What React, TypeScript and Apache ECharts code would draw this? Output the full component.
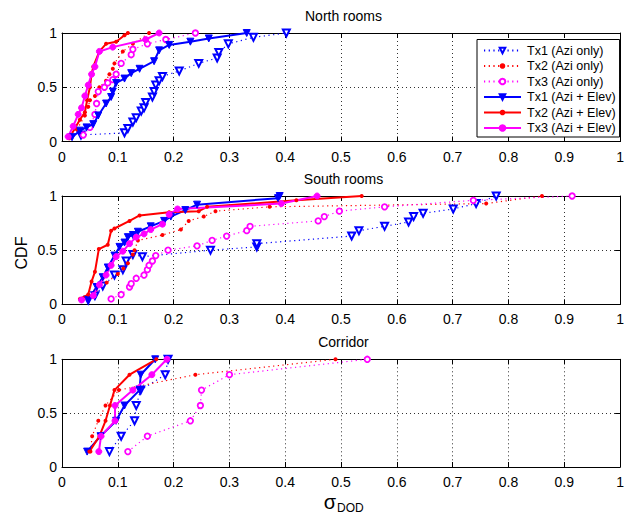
import React, { useEffect, useRef } from "react";
import * as echarts from "echarts";

type Pt = [number, number];

const panelTitles = ["North rooms", "South rooms", "Corridor"];
const seriesNames = [
  "Tx1 (Azi only)",
  "Tx2 (Azi only)",
  "Tx3 (Azi only)",
  "Tx1 (Azi + Elev)",
  "Tx2 (Azi + Elev)",
  "Tx3 (Azi + Elev)",
];
const xTickValues = [0, 0.1, 0.2, 0.3, 0.4, 0.5, 0.6, 0.7, 0.8, 0.9, 1];
const yTickValues = [0, 0.5, 1];
const xLabelText = "σ";
const xLabelSub = "DOD";
const yLabelText = "CDF";

// North rooms
const northTx1Azi: Pt[] = [
  [0.034, 0.06], [0.112, 0.08], [0.118, 0.12], [0.127, 0.18], [0.133, 0.22], [0.142, 0.28],
  [0.147, 0.31], [0.15, 0.36], [0.162, 0.41], [0.165, 0.46], [0.168, 0.52], [0.174, 0.56],
  [0.18, 0.6], [0.21, 0.65], [0.245, 0.72], [0.278, 0.77], [0.281, 0.82], [0.298, 0.9],
  [0.343, 0.96], [0.402, 1.0],
];
const northTx2Azi: Pt[] = [
  [0.027, 0.11], [0.041, 0.24], [0.047, 0.32], [0.05, 0.38], [0.059, 0.42], [0.067, 0.5],
  [0.079, 0.56], [0.085, 0.62], [0.091, 0.67], [0.094, 0.72], [0.109, 0.83], [0.127, 0.9],
  [0.156, 1.0],
];
const northTx3Azi: Pt[] = [
  [0.038, 0.06], [0.05, 0.13], [0.059, 0.25], [0.062, 0.35], [0.065, 0.46], [0.076, 0.5],
  [0.082, 0.54], [0.091, 0.57], [0.097, 0.62], [0.106, 0.72], [0.124, 0.8], [0.127, 0.85],
  [0.153, 0.9], [0.186, 0.94], [0.239, 1.0],
];
const northTx1Elev: Pt[] = [
  [0.018, 0.04], [0.032, 0.1], [0.044, 0.13], [0.056, 0.16], [0.065, 0.24], [0.079, 0.35],
  [0.088, 0.41], [0.091, 0.46], [0.097, 0.54], [0.112, 0.58], [0.124, 0.63], [0.139, 0.67],
  [0.165, 0.74], [0.174, 0.84], [0.192, 0.89], [0.23, 0.92], [0.263, 0.95], [0.331, 1.0],
];
const northTx2Elev: Pt[] = [
  [0.013, 0.03], [0.023, 0.12], [0.032, 0.2], [0.041, 0.27], [0.045, 0.38], [0.05, 0.5],
  [0.053, 0.62], [0.056, 0.69], [0.067, 0.83], [0.079, 0.9], [0.097, 0.92], [0.112, 0.98],
  [0.118, 1.0],
];
const northTx3Elev: Pt[] = [
  [0.011, 0.045], [0.02, 0.14], [0.029, 0.25], [0.035, 0.31], [0.041, 0.42], [0.047, 0.52],
  [0.053, 0.62], [0.059, 0.69], [0.067, 0.83], [0.091, 0.87], [0.15, 0.94], [0.174, 1.0],
];

// South rooms
const southTx1Azi: Pt[] = [
  [0.047, 0.04], [0.059, 0.08], [0.073, 0.17], [0.094, 0.27], [0.109, 0.32], [0.115, 0.4],
  [0.127, 0.46], [0.144, 0.44], [0.266, 0.5], [0.349, 0.53], [0.349, 0.56], [0.519, 0.63],
  [0.532, 0.68], [0.578, 0.72], [0.621, 0.76], [0.63, 0.81], [0.647, 0.84], [0.701, 0.88],
  [0.742, 0.93], [0.778, 1.0],
];
const southTx2Azi: Pt[] = [
  [0.04, 0.06], [0.06, 0.13], [0.08, 0.2], [0.1, 0.28], [0.11, 0.33], [0.118, 0.38],
  [0.127, 0.46], [0.13, 0.5], [0.136, 0.59], [0.18, 0.64], [0.213, 0.69], [0.227, 0.77],
  [0.254, 0.81], [0.275, 0.86], [0.372, 0.9], [0.76, 0.93], [0.86, 1.0],
];
const southTx3Azi: Pt[] = [
  [0.088, 0.05], [0.106, 0.09], [0.121, 0.16], [0.124, 0.19], [0.133, 0.24], [0.147, 0.27],
  [0.153, 0.32], [0.156, 0.36], [0.162, 0.4], [0.168, 0.45], [0.19, 0.5], [0.242, 0.54],
  [0.269, 0.59], [0.295, 0.63], [0.331, 0.68], [0.337, 0.72], [0.459, 0.77], [0.47, 0.81],
  [0.497, 0.86], [0.578, 0.9], [0.737, 0.96], [0.914, 1.0],
];
const southTx1Elev: Pt[] = [
  [0.047, 0.04], [0.062, 0.16], [0.073, 0.25], [0.082, 0.34], [0.094, 0.45], [0.103, 0.53],
  [0.112, 0.57], [0.118, 0.62], [0.127, 0.64], [0.136, 0.67], [0.159, 0.72], [0.183, 0.77],
  [0.195, 0.81], [0.221, 0.87], [0.242, 0.92], [0.387, 0.98], [0.39, 1.0],
];
const southTx2Elev: Pt[] = [
  [0.032, 0.05], [0.047, 0.09], [0.053, 0.21], [0.059, 0.3], [0.066, 0.51], [0.082, 0.55],
  [0.088, 0.68], [0.094, 0.7], [0.121, 0.77], [0.139, 0.82], [0.192, 0.85], [0.245, 0.86],
  [0.26, 0.9], [0.42, 0.96], [0.537, 1.0],
];
const southTx3Elev: Pt[] = [
  [0.035, 0.04], [0.056, 0.08], [0.067, 0.18], [0.079, 0.27], [0.088, 0.36], [0.097, 0.44],
  [0.109, 0.49], [0.121, 0.56], [0.133, 0.62], [0.147, 0.65], [0.159, 0.69], [0.18, 0.74],
  [0.192, 0.83], [0.207, 0.88], [0.393, 0.93], [0.457, 1.0],
];

// Corridor
const corridorTx1Azi: Pt[] = [
  [0.085, 0.143], [0.106, 0.286], [0.13, 0.429], [0.133, 0.571], [0.141, 0.714], [0.185, 0.857], [0.19, 1.0],
];
const corridorTx2Azi: Pt[] = [
  [0.051, 0.143], [0.054, 0.286], [0.065, 0.429], [0.078, 0.571], [0.102, 0.714], [0.239, 0.857], [0.49, 1.0],
];
const corridorTx3Azi: Pt[] = [
  [0.118, 0.143], [0.153, 0.286], [0.23, 0.429], [0.248, 0.571], [0.25, 0.714], [0.3, 0.857], [0.547, 1.0],
];
const corridorTx1Elev: Pt[] = [
  [0.045, 0.143], [0.069, 0.286], [0.097, 0.429], [0.112, 0.571], [0.139, 0.714], [0.141, 0.857], [0.167, 1.0],
];
const corridorTx2Elev: Pt[] = [
  [0.049, 0.143], [0.067, 0.286], [0.078, 0.429], [0.086, 0.571], [0.094, 0.714], [0.121, 0.857], [0.169, 1.0],
];
const corridorTx3Elev: Pt[] = [
  [0.066, 0.143], [0.07, 0.286], [0.095, 0.429], [0.095, 0.571], [0.127, 0.714], [0.161, 0.857], [0.188, 1.0],
];

const panelData: Pt[][][] = [
  [northTx1Azi, northTx2Azi, northTx3Azi, northTx1Elev, northTx2Elev, northTx3Elev],
  [southTx1Azi, southTx2Azi, southTx3Azi, southTx1Elev, southTx2Elev, southTx3Elev],
  [corridorTx1Azi, corridorTx2Azi, corridorTx3Azi, corridorTx1Elev, corridorTx2Elev, corridorTx3Elev],
];

const FONT = "'Liberation Sans', Arial, Helvetica, sans-serif";
const BLUE = "#0000ff";
const RED = "#ff0000";
const MAGENTA = "#ff00ff";

const styles = [
  { color: BLUE, dotted: true, symbol: "triangle", size: 7, fill: "#ffffff", bw: 2 },
  { color: RED, dotted: true, symbol: "circle", size: 4, fill: RED, bw: 0 },
  { color: MAGENTA, dotted: true, symbol: "circle", size: 5.5, fill: "#ffffff", bw: 1.8 },
  { color: BLUE, dotted: false, symbol: "triangle", size: 7, fill: BLUE, bw: 1 },
  { color: RED, dotted: false, symbol: "circle", size: 4, fill: RED, bw: 0 },
  { color: MAGENTA, dotted: false, symbol: "circle", size: 6, fill: MAGENTA, bw: 1 },
];

const grids = [
  { top: 33, height: 108.5 },
  { top: 196, height: 108.3 },
  { top: 359.3, height: 107.7 },
];
const LEFT = 62;
const WIDTH = 563;

export default function App() {
  const ref = useRef<HTMLDivElement>(null);
  useEffect(() => {
    if (!ref.current) return;
    const chart = echarts.init(ref.current, undefined, { renderer: "svg" });

    const xAxes: any[] = [];
    const yAxes: any[] = [];
    const series: any[] = [];
    const gridOpts: any[] = [];
    const graphics: any[] = [];

    const splitLine = {
      show: true,
      lineStyle: { color: "#000", width: 0.9, type: [1, 3], opacity: 0.9 },
    };

    grids.forEach((g, gi) => {
      gridOpts.push({ left: LEFT, top: g.top, width: WIDTH, height: g.height, show: false });
      xAxes.push({
        type: "value",
        gridIndex: gi,
        min: 0,
        max: 1,
        interval: 0.1,
        position: "bottom",
        axisLine: { show: true, onZero: false, lineStyle: { color: "#000", width: 1 } },
        axisTick: { show: true, inside: true, length: 5, lineStyle: { color: "#000" } },
        axisLabel: {
          show: true,
          margin: 8,
          color: "#000",
          fontSize: 14,
          fontFamily: FONT,
          formatter: (v: number) => String(+v.toFixed(1)),
          customValues: xTickValues,
        },
        splitLine,
      });
      xAxes.push({
        type: "value",
        gridIndex: gi,
        min: 0,
        max: 1,
        interval: 0.1,
        position: "top",
        axisLine: { show: true, onZero: false, lineStyle: { color: "#000", width: 1 } },
        axisTick: { show: true, inside: true, length: 5, lineStyle: { color: "#000" } },
        axisLabel: { show: false },
        splitLine: { show: false },
      });
      yAxes.push({
        type: "value",
        gridIndex: gi,
        min: 0,
        max: 1,
        interval: 0.5,
        position: "left",
        axisLine: { show: true, onZero: false, lineStyle: { color: "#000", width: 1 } },
        axisTick: { show: true, inside: true, length: 5, lineStyle: { color: "#000" } },
        axisLabel: {
          show: true,
          margin: 5,
          color: "#000",
          fontSize: 14,
          fontFamily: FONT,
          formatter: (v: number) => String(+v.toFixed(1)),
          customValues: yTickValues,
        },
        splitLine,
      });
      yAxes.push({
        type: "value",
        gridIndex: gi,
        min: 0,
        max: 1,
        interval: 0.5,
        position: "right",
        axisLine: { show: true, onZero: false, lineStyle: { color: "#000", width: 1 } },
        axisTick: { show: true, inside: true, length: 5, lineStyle: { color: "#000" } },
        axisLabel: { show: false },
        splitLine: { show: false },
      });

      panelData[gi].forEach((data, si) => {
        const s = styles[si];
        series.push({
          type: "line",
          name: seriesNames[si],
          xAxisIndex: gi * 2,
          yAxisIndex: gi * 2,
          data,
          symbol: s.symbol,
          symbolSize: s.size,
          symbolRotate: s.symbol === "triangle" ? 180 : 0,
          showSymbol: true,
          clip: false,
          z: s.dotted ? 2 : 3,
          lineStyle: s.dotted
            ? { color: s.color, width: 1.2, type: [1.2, 3.5] }
            : { color: s.color, width: 2, type: "solid" },
          itemStyle: { color: s.fill, borderColor: s.color, borderWidth: s.bw },
          emphasis: { disabled: true },
        });
      });

      graphics.push({
        type: "text",
        x: LEFT + WIDTH / 2,
        y: g.top - 17,
        style: {
          text: panelTitles[gi],
          fill: "#000",
          font: `14px ${FONT}`,
          align: "center",
          verticalAlign: "middle",
        },
      });
    });

    graphics.push({
      type: "text",
      x: 21,
      y: 253,
      rotation: Math.PI / 2,
      style: {
        text: yLabelText,
        fill: "#000",
        font: `16px ${FONT}`,
        align: "center",
        verticalAlign: "middle",
      },
    });
    graphics.push({
      type: "text",
      x: 336,
      y: 502,
      style: {
        text: xLabelText,
        fill: "#000",
        font: `20px ${FONT}`,
        align: "right",
        verticalAlign: "middle",
      },
    });
    graphics.push({
      type: "text",
      x: 337,
      y: 508,
      style: {
        text: xLabelSub,
        fill: "#000",
        font: `12px ${FONT}`,
        align: "left",
        verticalAlign: "middle",
      },
    });

    chart.setOption({
      animation: false,
      backgroundColor: "#ffffff",
      grid: gridOpts,
      xAxis: xAxes,
      yAxis: yAxes,
      series,
      graphic: graphics,
      legend: {
        show: true,
        data: seriesNames,
        orient: "vertical",
        left: 477,
        top: 39.5,
        itemWidth: 37,
        itemHeight: 7,
        itemGap: 1.5,
        padding: [4, 4, 2, 6],
        backgroundColor: "#ffffff",
        borderColor: "#000",
        borderWidth: 1,
        borderRadius: 0,
        selectedMode: false,
        textStyle: {
          fontSize: 12.5,
          lineHeight: 14,
          fontFamily: FONT,
          color: "#000",
          padding: [0, 0, 0, 1],
        },
        z: 10,
      },
    });
    return () => chart.dispose();
  }, []);
  return (
    <div
      ref={ref}
      style={{ position: "fixed", left: 0, top: 0, width: 627, height: 520, background: "#fff" }}
    />
  );
}
